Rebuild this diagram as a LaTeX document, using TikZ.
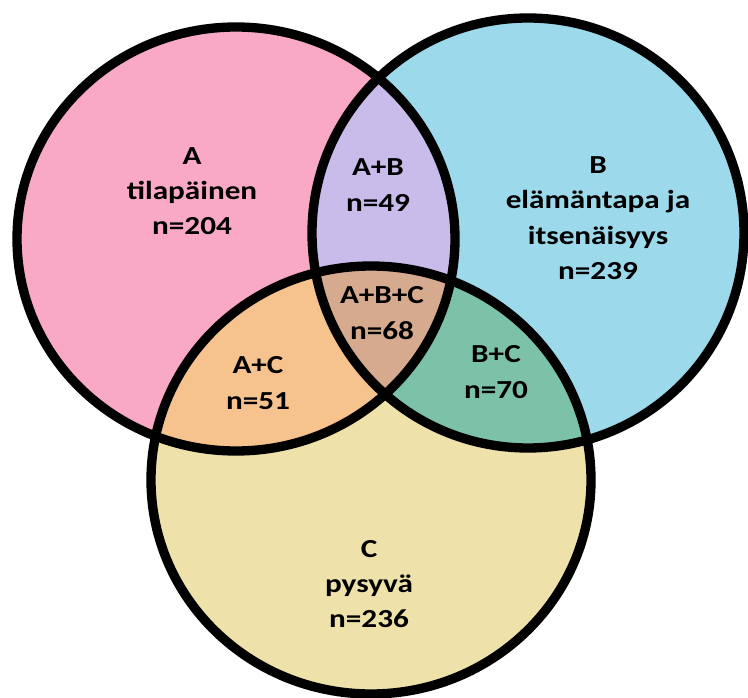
\documentclass[tikz,border=0pt]{standalone}
\usepackage{fontspec}
\setmainfont{Carlito}[FakeStretch=1.2]
\definecolor{fillA}{RGB}{249,169,198}
\definecolor{fillB}{RGB}{156,217,234}
\definecolor{fillC}{RGB}{238,226,170}
\definecolor{fillAB}{RGB}{201,188,234}
\definecolor{fillAC}{RGB}{246,195,142}
\definecolor{fillBC}{RGB}{124,194,169}
\definecolor{fillABC}{RGB}{214,170,143}
\begin{document}
\begin{tikzpicture}[x=0.75pt,y=-0.75pt]
\tikzstyle{every node}+=[inner sep=0pt, align=center, font=\bfseries\fontsize{19.5}{26.5}\selectfont]
\tikzset{ring/.style={draw=black, line width=7pt}}
\useasboundingbox (0,0) rectangle (748,698);
% sets
\fill [fillA] (236,239) ellipse [x radius=219, y radius=212];
\fill [fillB] (528,233) ellipse [x radius=216, y radius=215];
\fill [fillC] (371,480) ellipse [x radius=220, y radius=214];
% overlaps
\begin{scope}
\clip (236,239) ellipse [x radius=219, y radius=212];
\fill [fillAB] (528,233) ellipse [x radius=216, y radius=215];
\fill [fillAC] (371,480) ellipse [x radius=220, y radius=214];
\end{scope}
\begin{scope}
\clip (528,233) ellipse [x radius=216, y radius=215];
\fill [fillBC] (371,480) ellipse [x radius=220, y radius=214];
\clip (371,480) ellipse [x radius=220, y radius=214];
\fill [fillABC] (236,239) ellipse [x radius=219, y radius=212];
\end{scope}
% outlines
\draw [ring] (236,239) ellipse [x radius=219, y radius=212];
\draw [ring] (528,233) ellipse [x radius=216, y radius=215];
\draw [ring] (371,480) ellipse [x radius=220, y radius=214];
% labels
\node (labA) at (192,191) {A\\tilapäinen\\n=204};
\node (labAB) at (378,185) {A+B\\n=49};
\node (labB) at (598,218) {B\\elämäntapa ja\\itsenäisyys\\n=239};
\node (labABC) at (382,313) {A+B+C\\n=68};
\node (labAC) at (258,383) {A+C\\n=51};
\node (labBC) at (496,372) {B+C\\n=70};
\node (labC) at (369,584) {C\\pysyvä\\n=236};
\end{tikzpicture}
\end{document}
